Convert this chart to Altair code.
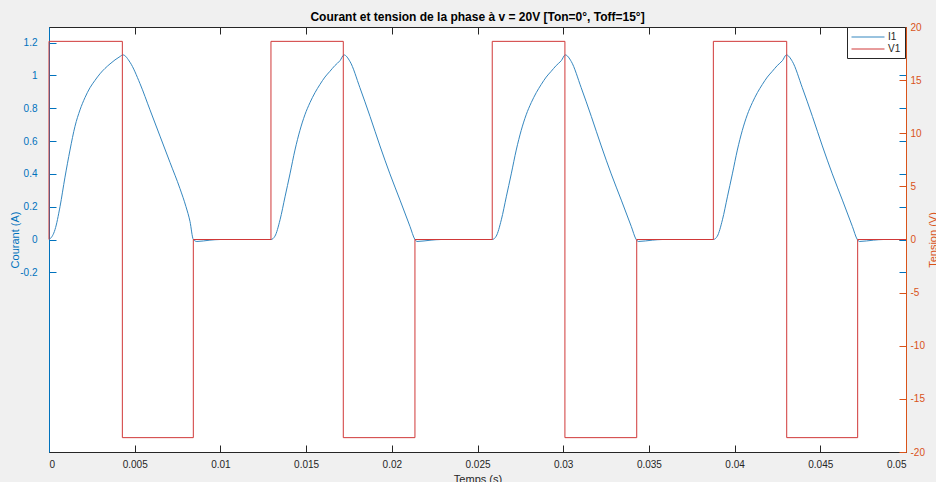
import altair as alt
import pandas as pd

# ---------------- data ----------------
# Courant I1 (A) : time (s) / value
t_courant = [
    # cycle 1
    0.0, 0.000058, 0.00035, 0.000642, 0.000933, 0.001225, 0.001517, 0.001809,
    0.0021, 0.002392, 0.002684, 0.002975, 0.003559, 0.004142, 0.004317,
    0.004726, 0.005309, 0.005892, 0.006476, 0.007059, 0.007642, 0.007992,
    0.008226, 0.00842, 0.00863, 0.00939, 0.00998,
    # cycle 2
    0.01295, 0.01318, 0.01348, 0.01377, 0.01406, 0.01435, 0.01464, 0.01493,
    0.01523, 0.01552, 0.01581, 0.0161, 0.01639, 0.01668, 0.01698, 0.01721,
    0.01756, 0.01814, 0.01873, 0.01931, 0.01989, 0.02048, 0.02106, 0.02135,
    0.02147, 0.02229, 0.02287,
    # cycle 3
    0.02586, 0.02609, 0.02639, 0.02668, 0.02697, 0.02726, 0.02755, 0.02784,
    0.02814, 0.02843, 0.02872, 0.02901, 0.0293, 0.02959, 0.02989, 0.03012,
    0.03047, 0.03105, 0.03164, 0.03222, 0.0328, 0.03339, 0.03397, 0.03426,
    0.03438, 0.0352, 0.03578,
    # cycle 4
    0.03876, 0.03899, 0.03929, 0.03958, 0.03987, 0.04016, 0.04045, 0.04074,
    0.04104, 0.04133, 0.04162, 0.04191, 0.0422, 0.04249, 0.04279, 0.04302,
    0.04337, 0.04395, 0.04454, 0.04512, 0.0457, 0.04629, 0.04687, 0.04716,
    0.04728, 0.0481, 0.04868,
    0.05,
]
i_courant = [
    # cycle 1
    0.0, 0.004, 0.06, 0.2, 0.38, 0.545, 0.69, 0.79, 0.865, 0.925, 0.97, 1.01,
    1.07, 1.115, 1.125, 1.08, 0.95, 0.79, 0.63, 0.47, 0.31, 0.2, 0.11, 0.0,
    -0.012, -0.004, 0.0,
    # cycle 2
    0.0, 0.02, 0.12, 0.26, 0.40, 0.545, 0.665, 0.76, 0.835, 0.895, 0.945, 0.99,
    1.025, 1.06, 1.09, 1.125, 1.085, 0.925, 0.75, 0.57, 0.40, 0.24, 0.08, 0.0,
    -0.012, -0.004, 0.0,
    # cycle 3
    0.0, 0.02, 0.12, 0.26, 0.40, 0.545, 0.665, 0.76, 0.835, 0.895, 0.945, 0.99,
    1.025, 1.06, 1.09, 1.125, 1.085, 0.925, 0.75, 0.57, 0.40, 0.24, 0.08, 0.0,
    -0.012, -0.004, 0.0,
    # cycle 4
    0.0, 0.02, 0.12, 0.26, 0.40, 0.545, 0.665, 0.76, 0.835, 0.895, 0.945, 0.99,
    1.025, 1.06, 1.09, 1.125, 1.085, 0.925, 0.75, 0.57, 0.40, 0.24, 0.08, 0.0,
    -0.012, -0.004, 0.0,
    0.0,
]

# Tension V1 (V) : switching instants (step-after)
t_tension = [0.0, 0.0, 0.00428, 0.00842, 0.01295, 0.01717, 0.02135, 0.02586,
             0.0301, 0.03429, 0.03876, 0.04304, 0.04718, 0.05]
v_tension = [0.0, 18.65, -18.65, 0.0, 18.65, -18.65, 0.0, 18.65,
             -18.65, 0.0, 18.65, -18.65, 0.0, 0.0]

x_ticks = [0, 0.005, 0.01, 0.015, 0.02, 0.025, 0.03, 0.035, 0.04, 0.045, 0.05]
i_ticks = [-0.2, 0, 0.2, 0.4, 0.6, 0.8, 1, 1.2]
v_ticks = [-20, -15, -10, -5, 0, 5, 10, 15, 20]

X_DOM = [0, 0.05]
I_DOM = [-1.295, 1.295]
V_DOM = [-20, 20]

TITLE = "Courant et tension de la phase à v = 20V [Ton=0°, Toff=15°]"

# ---------------- styling ----------------
DARK = "#262626"
BLUE = "#0072BD"
ORANGE = "#D95319"
LINE_BLUE = "#3587bf"
LINE_RED = "#d03838"
FONT = "Liberation Sans"
W, H = 857, 425

cur_df = pd.DataFrame({"t": t_courant, "val": i_courant,
                       "k": list(range(len(t_courant))), "serie": "I1"})
vol_df = pd.DataFrame({"t": t_tension, "val": v_tension,
                       "k": list(range(len(t_tension))), "serie": "V1"})

xs = alt.Scale(domain=X_DOM, nice=False, zero=False)
iscale = alt.Scale(domain=I_DOM, nice=False, zero=False)
vscale = alt.Scale(domain=V_DOM, nice=False, zero=False)
cscale = alt.Scale(domain=["I1", "V1"], range=[LINE_BLUE, LINE_RED])
LBL = "'' + datum.value"

legend = alt.Legend(
    title=None, orient="none", legendX=W - 59, legendY=0,
    fillColor="white", strokeColor=DARK, padding=4,
    symbolType="M-3,0H3", symbolSize=121, symbolOffset=11,
    symbolStrokeWidth=1, labelOffset=14,
    labelFontSize=10, labelColor=DARK, labelFont=FONT,
    rowPadding=1,
)

# visible current line (bottom x axis with labels, left y axis with labels)
courant = alt.Chart(cur_df).mark_line(strokeWidth=1, interpolate="monotone").encode(
    x=alt.X("t:Q", scale=xs, axis=alt.Axis(
        orient="bottom", values=x_ticks, labelExpr=LBL, ticks=False,
        domain=True, domainColor=DARK, labelColor=DARK, labelFontSize=10,
        labelPadding=7, grid=False, title="Temps (s)", titleFontSize=11,
        titleFontWeight="normal", titleColor=DARK, titleX=W / 2, titleY=21,
        titleBaseline="top", titleAlign="center", labelFont=FONT, titleFont=FONT)),
    y=alt.Y("val:Q", scale=iscale, axis=alt.Axis(
        orient="left", values=i_ticks, labelExpr=LBL, ticks=False,
        domain=True, domainColor=BLUE, labelColor=BLUE, labelFontSize=10,
        labelPadding=12, grid=False, title="Courant (A)", titleFontSize=11,
        titleFontWeight="normal", titleColor=BLUE, titleAngle=270,
        titleX=-34, titleY=H / 2, titleBaseline="middle", titleAlign="center",
        labelFont=FONT, titleFont=FONT)),
    color=alt.Color("serie:N", scale=cscale, legend=legend),
    order="k:Q",
)

# visible voltage line (top inward ticks, right y axis with labels)
tension = alt.Chart(vol_df).mark_line(strokeWidth=1, interpolate="step-after").encode(
    x=alt.X("t:Q", scale=xs, axis=alt.Axis(
        orient="top", offset=-7, values=x_ticks, ticks=True, tickSize=7,
        tickColor=DARK, labels=False, domain=False, grid=False, title=None)),
    y=alt.Y("val:Q", scale=vscale, axis=alt.Axis(
        orient="right", values=v_ticks, labelExpr=LBL, ticks=False,
        domain=True, domainColor=ORANGE, labelColor=ORANGE, labelFontSize=10,
        labelPadding=4, grid=False, title="Tension (V)", titleFontSize=11,
        titleFontWeight="normal", titleColor=ORANGE, titleAngle=270,
        titleX=27, titleY=H / 2, titleBaseline="middle", titleAlign="center",
        labelFont=FONT, titleFont=FONT)),
    color=alt.Color("serie:N", scale=cscale, legend=legend),
    order="k:Q",
)

# invisible layers carrying inward tick marks
ticks_a = alt.Chart(cur_df).mark_line(opacity=0).encode(
    x=alt.X("t:Q", scale=xs, axis=alt.Axis(
        orient="bottom", offset=-7, values=x_ticks, ticks=True, tickSize=7,
        tickColor=DARK, labels=False, domain=False, grid=False, title=None)),
    y=alt.Y("val:Q", scale=iscale, axis=alt.Axis(
        orient="left", offset=-7, values=i_ticks, ticks=True, tickSize=7,
        tickColor=BLUE, labels=False, domain=False, grid=False, title=None)),
    order="k:Q",
)
ticks_b = alt.Chart(vol_df).mark_line(opacity=0).encode(
    x=alt.X("t:Q", scale=xs, axis=None),
    y=alt.Y("val:Q", scale=vscale, axis=alt.Axis(
        orient="right", offset=-7, values=v_ticks, ticks=True, tickSize=7,
        tickColor=ORANGE, labels=False, domain=False, grid=False, title=None)),
    order="k:Q",
)
ticks_c = alt.Chart(cur_df).mark_line(opacity=0).encode(
    x=alt.X("t:Q", scale=xs, axis=None),
    y=alt.Y("val:Q", scale=iscale, axis=alt.Axis(
        orient="right", offset=-7, values=i_ticks, ticks=True, tickSize=7,
        tickColor=BLUE, labels=False, domain=False, grid=False, title=None)),
    order="k:Q",
)

chart = alt.layer(ticks_a, ticks_b, ticks_c, courant, tension).resolve_scale(
    y="independent"
).resolve_axis(
    x="independent", y="independent"
).properties(
    width=W, height=H,
    padding={"left": 49, "top": 27, "right": 30, "bottom": 30},
    autosize=alt.AutoSizeParams(type="none"),
    title=alt.Title(TITLE, fontSize=12, fontWeight="bold", color="#000000",
                    anchor="middle", frame="group", offset=5, dy=7, font=FONT),
).configure(
    background="#f0f0f0",
    font=FONT,
).configure_view(
    fill="white", stroke=DARK, strokeWidth=1,
)

chart.save("out.html", embed_options={"renderer": "svg", "actions": False})
